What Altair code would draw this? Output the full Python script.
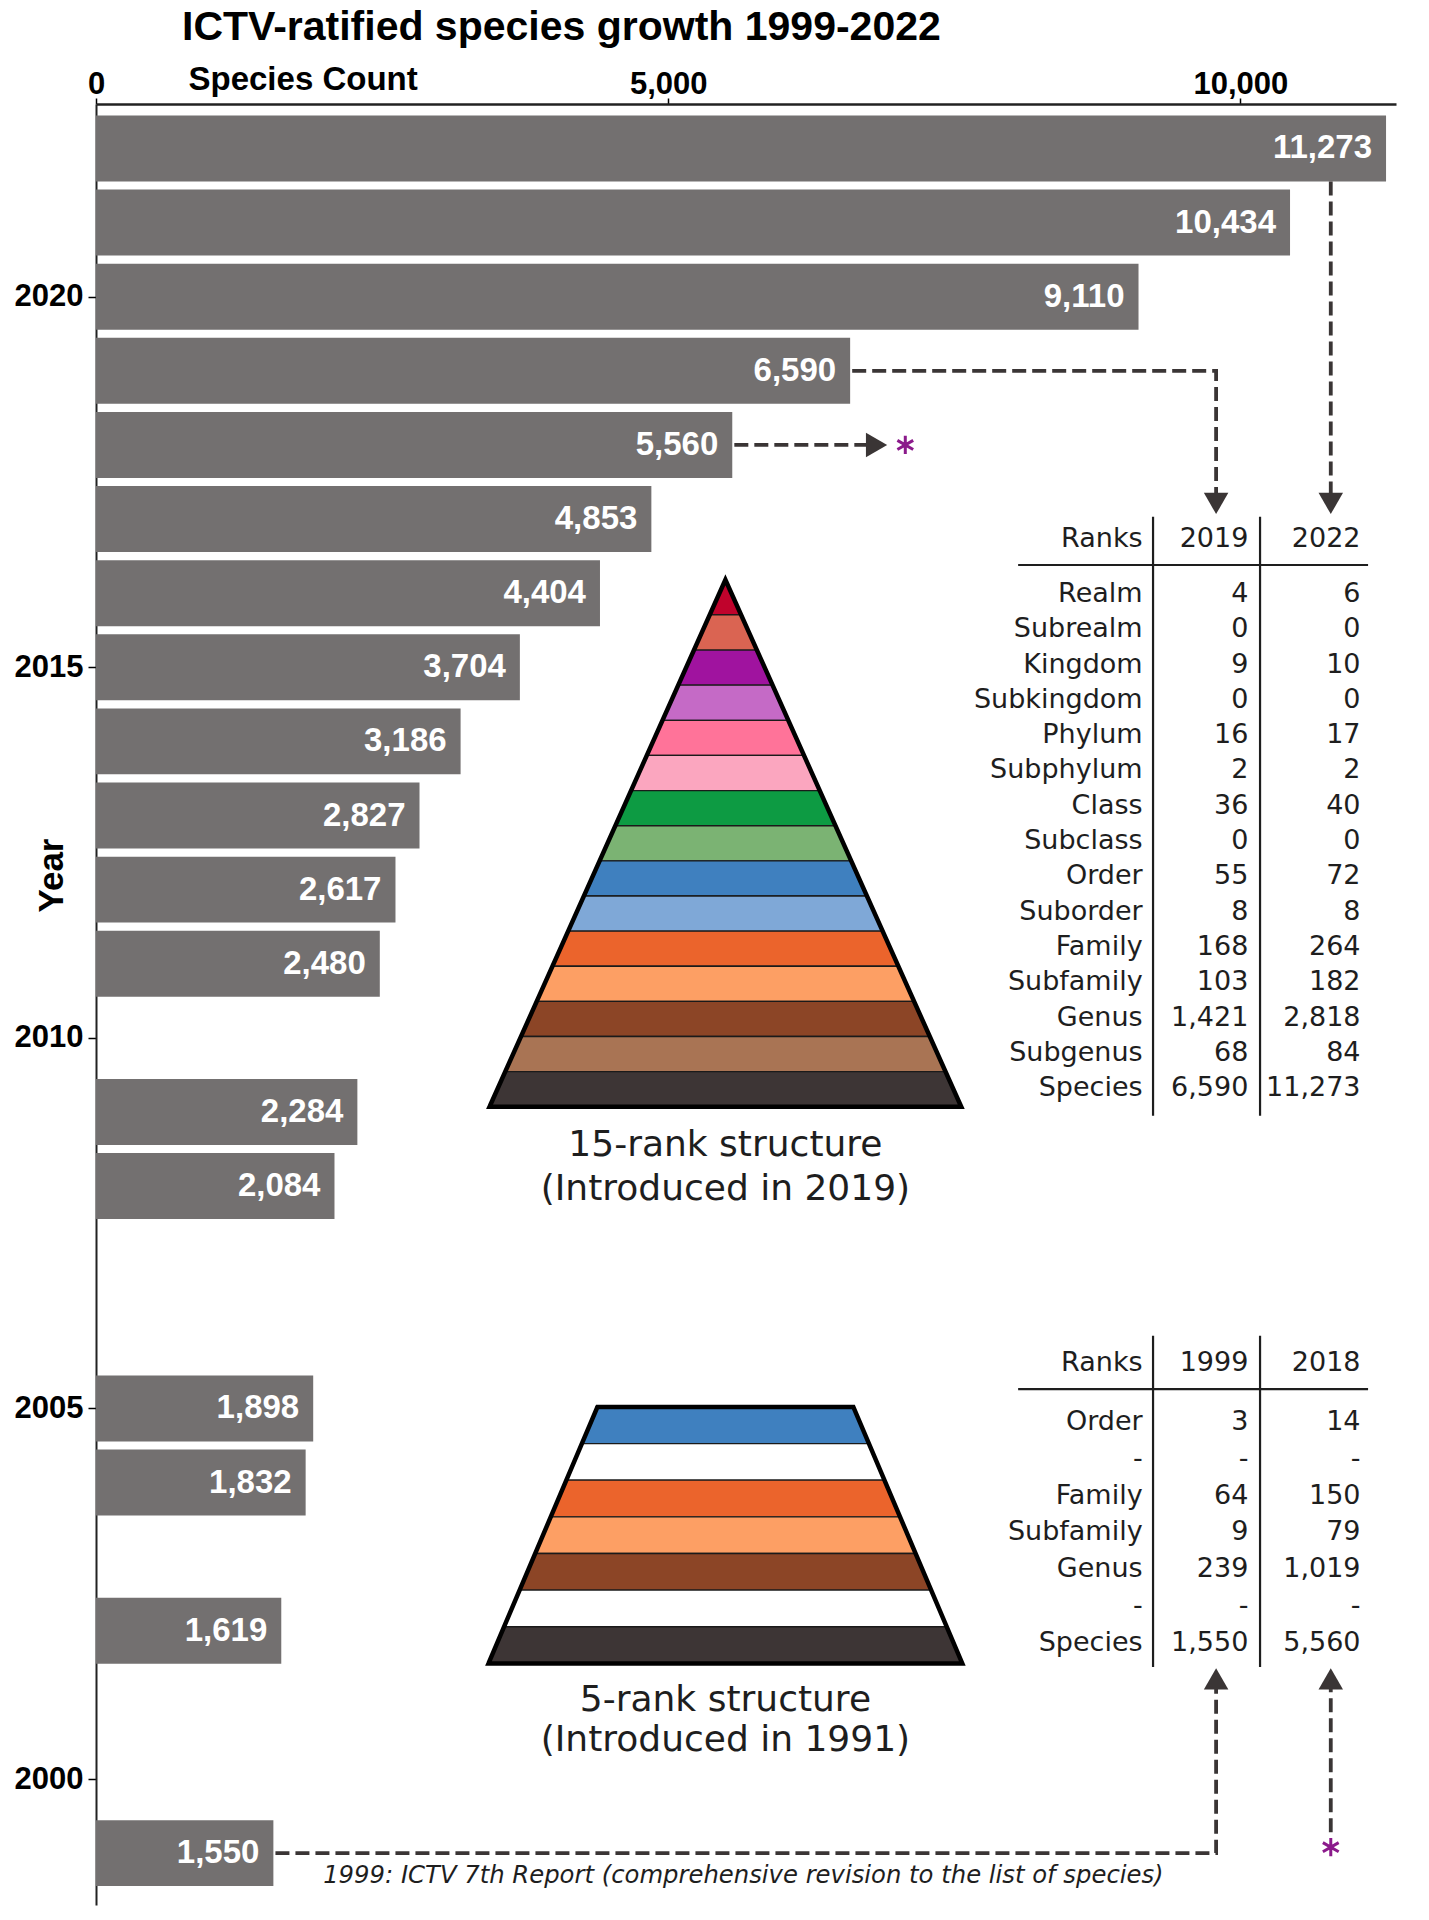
import altair as alt
import pandas as pd

# ---------------- data ----------------
years = [1999, 2002, 2004, 2005, 2008, 2009, 2011, 2012, 2013, 2014,
         2015, 2016, 2017, 2018, 2019, 2020, 2021, 2022]
species = [1550, 1619, 1832, 1898, 2084, 2284, 2480, 2617, 2827, 3186,
           3704, 4404, 4853, 5560, 6590, 9110, 10434, 11273]

x_ticks = [0, 5000, 10000]
y_ticks = [2000, 2005, 2010, 2015, 2020]

ranks15 = ["Realm", "Subrealm", "Kingdom", "Subkingdom", "Phylum", "Subphylum",
           "Class", "Subclass", "Order", "Suborder", "Family", "Subfamily",
           "Genus", "Subgenus", "Species"]
counts_2019 = [4, 0, 9, 0, 16, 2, 36, 0, 55, 8, 168, 103, 1421, 68, 6590]
counts_2022 = [6, 0, 10, 0, 17, 2, 40, 0, 72, 8, 264, 182, 2818, 84, 11273]

ranks5 = ["Order", "-", "Family", "Subfamily", "Genus", "-", "Species"]
counts_1999 = [3, None, 64, 9, 239, None, 1550]
counts_2018 = [14, None, 150, 79, 1019, None, 5560]

title_text = "ICTV-ratified species growth 1999-2022"
caption15 = ["15-rank structure", "(Introduced in 2019)"]
caption5 = ["5-rank structure", "(Introduced in 1991)"]
footnote = "1999: ICTV 7th Report (comprehensive revision to the list of species)"

# ---------------- styles ----------------
colors15 = ["#C0032C", "#DA6452", "#A0139F", "#C56AC6", "#FF7399", "#FBA6BF",
            "#0D9B43", "#7BB373", "#3F80BF", "#7FA8D7", "#EB642C", "#FD9F64",
            "#8C4526", "#A97454", "#3D3535"]
colors5 = ["#3F80BF", "#FFFFFF", "#EB642C", "#FD9F64", "#8C4526", "#FFFFFF", "#3D3535"]
BAR_COLOR = "#737070"
INK = "#3a3535"
STAR = "#8B1A8B"
SANS = "Liberation Sans"
TSANS = "DejaVu Sans"

# layout constants (in data units: species count / year)
BAR_HALF = 0.445
GAP = 18
PYR_CX = 5500
P15_APEX, P15_BASE, P15_HW = 2016.18, 2009.07, 2061
P5_TOP, P5_BOT, P5_TOP_HW, P5_BOT_HW = 2005.02, 2001.56, 1118, 2070
RANK_X, COLA_X, COLB_X = 9146, 10070, 11050
VL1_X, VL2_X = 9237, 10172
HL_X1, HL_X2 = 8058, 11116
COL_X, COL2_X = 9788, 10790

xscale = alt.Scale(domain=[0, 11360], nice=False, zero=False)
yscale = alt.Scale(domain=[1998.3, 2022.6], nice=False, zero=False)

xaxis = alt.Axis(orient="top", values=x_ticks, format=",d", labelFont=SANS,
                 labelFontWeight="bold", labelFontSize=31, labelColor="black",
                 labelBaseline="alphabetic", labelPadding=5, labelFlush=False,
                 tickSize=6, tickColor="black", tickWidth=1.5,
                 domainColor="#222", domainWidth=2.5, grid=False,
                 titleFont=SANS, titleFontSize=33, titleFontWeight="bold",
                 titleColor="black", titleX=92, titleY=-15, titleAlign="left",
                 titleBaseline="alphabetic", titleAngle=0)
yaxis = alt.Axis(values=y_ticks, format="d", labelFont=SANS, labelFontWeight="bold",
                 labelFontSize=31, labelColor="black", labelPadding=5,
                 tickSize=8, tickColor="black", tickWidth=1.5,
                 domainColor="#222", domainWidth=2, grid=False,
                 titleFont=SANS, titleFontSize=35, titleFontWeight="bold",
                 titleColor="black", titleX=-45, titleY=771, titleAngle=270,
                 titleAlign="center", titleBaseline="middle")


def X(f):
    return alt.X(f, type="quantitative", scale=xscale, axis=xaxis,
                 title="Species Count", stack=None)


def Y(f):
    return alt.Y(f, type="quantitative", scale=yscale, axis=yaxis,
                 title="Year", stack=None)


# ---------------- bars ----------------
bar_df = pd.DataFrame({"year": years, "species": species})

bars = alt.Chart(bar_df).transform_calculate(
    y0=f"datum.year - {BAR_HALF}", y1=f"datum.year + {BAR_HALF}", zero="0"
).mark_rect(color=BAR_COLOR).encode(
    x=X("zero"), x2="species:Q", y=Y("y0"), y2="y1:Q",
)

bar_labels = alt.Chart(bar_df).mark_text(
    align="right", baseline="middle", dx=-14, font=SANS, fontWeight="bold",
    fontSize=33, color="white"
).encode(x=X("species"), y=Y("year"), text=alt.Text("species:Q", format=","))

# ---------------- pyramids ----------------
stripes = []
n15 = len(colors15)
for i, c in enumerate(colors15):
    for k in (i, i + 1):
        yy = P15_APEX - k * (P15_APEX - P15_BASE) / n15
        hw = P15_HW * k / n15
        stripes.append({"sid": f"a{i:02d}", "y": yy, "xl": PYR_CX - hw, "xr": PYR_CX + hw, "fill": c})
n5 = len(colors5)
for i, c in enumerate(colors5):
    for k in (i, i + 1):
        yy = P5_TOP - k * (P5_TOP - P5_BOT) / n5
        hw = P5_TOP_HW + (P5_BOT_HW - P5_TOP_HW) * k / n5
        stripes.append({"sid": f"b{i:02d}", "y": yy, "xl": PYR_CX - hw, "xr": PYR_CX + hw, "fill": c})
stripe_df = pd.DataFrame(stripes)

pyr_areas = alt.Chart(stripe_df).mark_area(
    orient="horizontal", stroke="#1a1a1a", strokeWidth=1.3, opacity=1
).encode(
    y=Y("y"), x=X("xl"), x2="xr", color=alt.Color("fill:N", scale=None),
    detail="sid:N",
)

outline = []
tri = [(PYR_CX - P15_HW, P15_BASE), (PYR_CX, P15_APEX), (PYR_CX + P15_HW, P15_BASE)]
tri = tri + tri[:2]
for i, (xx, yy) in enumerate(tri):
    outline.append({"pid": "t", "o": i, "x": xx, "y": yy})
trap = [(PYR_CX - P5_BOT_HW, P5_BOT), (PYR_CX - P5_TOP_HW, P5_TOP),
        (PYR_CX + P5_TOP_HW, P5_TOP), (PYR_CX + P5_BOT_HW, P5_BOT)]
trap = trap + trap[:2]
for i, (xx, yy) in enumerate(trap):
    outline.append({"pid": "q", "o": i, "x": xx, "y": yy})
outline_df = pd.DataFrame(outline)

pyr_outline = alt.Chart(outline_df).mark_line(
    color="black", strokeWidth=4.5, strokeJoin="miter"
).encode(x=X("x"), y=Y("y"), order="o:Q", detail="pid:N")

cap_df = pd.DataFrame({
    "t": caption15 + caption5,
    "x": [PYR_CX] * 4,
    "y": [2008.55, 2007.96, 2001.06, 2000.52],
})
captions = alt.Chart(cap_df).mark_text(
    font=TSANS, fontSize=36, color="#1e1e1e", align="center", baseline="middle"
).encode(x=X("x"), y=Y("y"), text="t:N")

# ---------------- tables ----------------
def fmt(v):
    return "-" if v is None else f"{v:,}"


trows = []


def add_table(ranks, a, b, head_a, head_b, y_head, y_first, step):
    trows.extend([
        {"x": RANK_X, "y": y_head, "t": "Ranks"},
        {"x": COLA_X, "y": y_head, "t": head_a},
        {"x": COLB_X, "y": y_head, "t": head_b},
    ])
    for i, (r, va, vb) in enumerate(zip(ranks, a, b)):
        yy = y_first - i * step
        trows.extend([
            {"x": RANK_X, "y": yy, "t": r},
            {"x": COLA_X, "y": yy, "t": fmt(va)},
            {"x": COLB_X, "y": yy, "t": fmt(vb)},
        ])


add_table(ranks15, counts_2019, counts_2022, "2019", "2022", 2016.73, 2015.99, 0.4765)
add_table(ranks5, counts_1999, counts_2018, "1999", "2018", 2005.61, 2004.82, 0.498)
table_df = pd.DataFrame(trows)

table_text = alt.Chart(table_df).mark_text(
    font=TSANS, fontSize=27, color="#1e1e1e", align="right", baseline="middle"
).encode(x=X("x"), y=Y("y"), text="t:N")

rule_df = pd.DataFrame([
    {"x1": HL_X1, "x2": HL_X2, "y1": 2016.38, "y2": 2016.38},
    {"x1": VL1_X, "x2": VL1_X, "y1": 2017.03, "y2": 2008.95},
    {"x1": VL2_X, "x2": VL2_X, "y1": 2017.03, "y2": 2008.95},
    {"x1": HL_X1, "x2": HL_X2, "y1": 2005.26, "y2": 2005.26},
    {"x1": VL1_X, "x2": VL1_X, "y1": 2005.98, "y2": 2001.51},
    {"x1": VL2_X, "x2": VL2_X, "y1": 2005.98, "y2": 2001.51},
])
table_rules = alt.Chart(rule_df).mark_rule(color="#1e1e1e", strokeWidth=2.2).encode(
    x=X("x1"), x2="x2", y=Y("y1"), y2="y2"
)

# ---------------- arrows ----------------
def val(y):
    return species[years.index(y)]


paths = []


def add_path(pid, pts):
    for i, (xx, yy) in enumerate(pts):
        paths.append({"pid": pid, "o": i, "x": xx, "y": yy})


add_path("p2019", [(val(2019) + GAP, 2019), (COL_X, 2019), (COL_X, 2017.3)])
add_path("p2022", [(COL2_X, 2022 - BAR_HALF), (COL2_X, 2017.3)])
add_path("p2018", [(val(2018) + GAP, 2018), (6790, 2018)])
add_path("p1999", [(val(1999) + GAP, 1999), (COL_X, 1999), (COL_X, 2001.3)])
add_path("p2018b", [(COL2_X, 1999.28), (COL2_X, 2001.3)])
path_df = pd.DataFrame(paths)

dashed = alt.Chart(path_df).mark_line(
    color=INK, strokeWidth=3.8, strokeDash=[14, 6], strokeJoin="miter"
).encode(x=X("x"), y=Y("y"), order="o:Q", detail="pid:N")

head_df = pd.DataFrame([
    {"x": COL_X, "y": 2017.21, "s": "triangle-down"},
    {"x": COL2_X, "y": 2017.21, "s": "triangle-down"},
    {"x": 6821, "y": 2018, "s": "triangle-right"},
    {"x": COL_X, "y": 2001.35, "s": "triangle-up"},
    {"x": COL2_X, "y": 2001.35, "s": "triangle-up"},
])
heads = alt.Chart(head_df).mark_point(
    filled=True, size=600, color=INK, opacity=1
).encode(x=X("x"), y=Y("y"), shape=alt.Shape("s:N", scale=None))

star_df = pd.DataFrame([{"x": 7072, "y": 2018}, {"x": COL2_X, "y": 1999.08}])
stars = alt.Chart(star_df).mark_point(
    shape="M0,-1L0,1M-0.87,-0.5L0.87,0.5M-0.87,0.5L0.87,-0.5",
    filled=False, stroke=STAR, strokeWidth=3, size=330, opacity=1
).encode(x=X("x"), y=Y("y"))

foot_df = pd.DataFrame([{"x": 5657, "y": 1998.69, "t": footnote}])
foot = alt.Chart(foot_df).mark_text(
    font=TSANS, fontSize=24.3, fontStyle="italic", color="#1e1e1e",
    align="center", baseline="middle"
).encode(x=X("x"), y=Y("y"), text="t:N")

chart = alt.layer(
    bars, bar_labels, pyr_areas, pyr_outline, captions, table_rules, table_text,
    dashed, heads, stars, foot
).properties(
    width=1300, height=1801,
    title=alt.TitleParams(title_text, anchor="start", frame="group", dx=86, dy=28,
                          font=SANS, fontSize=41, fontWeight="bold", color="black",
                          baseline="alphabetic", offset=10),
    autosize=alt.AutoSizeParams(type="none"),
    padding={"left": 88, "top": 96, "right": 20, "bottom": 10},
    background="white",
).configure_view(stroke=None)

chart.save("out.html", embed_options={"renderer": "svg", "actions": False})
